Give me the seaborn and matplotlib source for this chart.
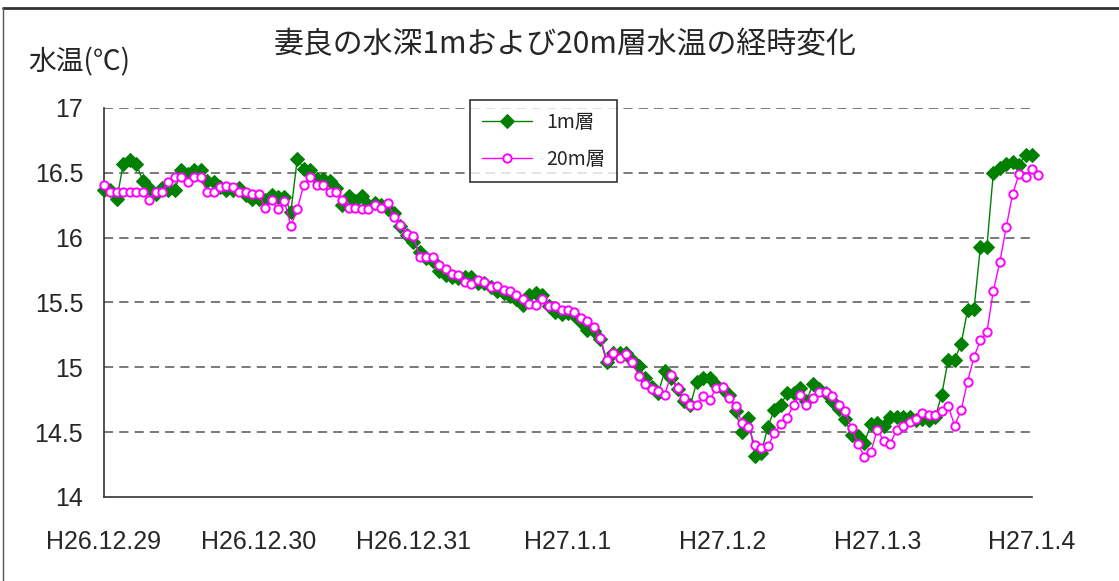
import numpy as np
import pandas as pd
import matplotlib
matplotlib.use("Agg")
import matplotlib.pyplot as plt
from matplotlib.lines import Line2D
import seaborn as sns

# hourly readings, H26.12.29 0:00 onwards
hours = np.arange(146)

temp_1m = [
    16.37, 16.37, 16.30, 16.57, 16.60, 16.57, 16.44, 16.38, 16.34, 16.38,
    16.37, 16.37, 16.52, 16.49, 16.52, 16.52, 16.44, 16.43, 16.39, 16.37,
    16.37, 16.38, 16.33, 16.30, 16.30, 16.29, 16.33, 16.31, 16.31, 16.20,
    16.61, 16.53, 16.52, 16.45, 16.45, 16.44, 16.38, 16.25, 16.32, 16.28,
    16.32, 16.25, 16.27, 16.25, 16.22, 16.19, 16.09, 16.02, 15.97, 15.89,
    15.84, 15.82, 15.74, 15.71, 15.70, 15.69, 15.70, 15.70, 15.65, 15.65,
    15.62, 15.59, 15.57, 15.55, 15.53, 15.48, 15.56, 15.57, 15.56, 15.47,
    15.43, 15.41, 15.42, 15.40, 15.35, 15.29, 15.28, 15.22, 15.04, 15.11,
    15.11, 15.11, 15.06, 15.01, 14.92, 14.85, 14.80, 14.97, 14.92, 14.83,
    14.74, 14.71, 14.89, 14.92, 14.92, 14.86, 14.83, 14.79, 14.66, 14.50,
    14.61, 14.32, 14.34, 14.54, 14.67, 14.71, 14.80, 14.80, 14.84, 14.74,
    14.87, 14.83, 14.80, 14.74, 14.68, 14.60, 14.48, 14.47, 14.42, 14.56,
    14.57, 14.55, 14.62, 14.62, 14.62, 14.62, 14.59, 14.60, 14.59, 14.62,
    14.79, 15.06, 15.06, 15.18, 15.44, 15.45, 15.93, 15.93, 16.50, 16.54,
    16.57, 16.58, 16.56, 16.64, 16.64,
]

temp_20m = [
    16.41, 16.35, 16.35, 16.35, 16.35, 16.35, 16.35, 16.29, 16.35, 16.35,
    16.43, 16.47, 16.47, 16.43, 16.47, 16.47, 16.35, 16.35, 16.39, 16.40,
    16.39, 16.35, 16.35, 16.34, 16.34, 16.23, 16.29, 16.22, 16.28, 16.09,
    16.22, 16.41, 16.47, 16.41, 16.41, 16.35, 16.35, 16.29, 16.23, 16.23,
    16.22, 16.22, 16.25, 16.23, 16.27, 16.16, 16.10, 16.03, 16.01, 15.85,
    15.85, 15.85, 15.79, 15.76, 15.72, 15.71, 15.66, 15.64, 15.67, 15.66,
    15.62, 15.63, 15.60, 15.59, 15.56, 15.53, 15.49, 15.48, 15.53, 15.47,
    15.47, 15.44, 15.44, 15.43, 15.38, 15.36, 15.31, 15.23, 15.06, 15.11,
    15.07, 15.10, 15.04, 14.93, 14.87, 14.83, 14.82, 14.79, 14.94, 14.84,
    14.76, 14.71, 14.71, 14.78, 14.75, 14.84, 14.85, 14.76, 14.70, 14.57,
    14.54, 14.40, 14.38, 14.39, 14.49, 14.56, 14.61, 14.71, 14.79, 14.71,
    14.76, 14.81, 14.81, 14.78, 14.71, 14.66, 14.53, 14.41, 14.31, 14.35,
    14.52, 14.43, 14.41, 14.52, 14.55, 14.58, 14.60, 14.65, 14.63, 14.63,
    14.66, 14.70, 14.55, 14.67, 14.89, 15.08, 15.21, 15.27, 15.59, 15.81,
    16.08, 16.34, 16.49, 16.47, 16.53, 16.48,
]

day_ticks = [0, 24, 48, 72, 96, 120, 144]
day_labels = ["H26.12.29", "H26.12.30", "H26.12.31", "H27.1.1",
              "H27.1.2", "H27.1.3", "H27.1.4"]
y_ticks = [14, 14.5, 15, 15.5, 16, 16.5, 17]
y_labels = ["14", "14.5", "15", "15.5", "16", "16.5", "17"]

sns.set_style("white")
jp = ["Noto Sans CJK JP", "DejaVu Sans"]
num = ["Liberation Sans Narrow", "Liberation Sans", "DejaVu Sans"]
plt.rcParams["font.family"] = jp

fig = plt.figure(figsize=(11.19, 5.81), dpi=100)
ax = fig.add_axes([104 / 1119, 1 - 497 / 581, (1032 - 104) / 1119, (497 - 108) / 581])

df1 = pd.DataFrame({"hour": hours[:len(temp_1m)], "temp": temp_1m})
df20 = pd.DataFrame({"hour": hours[:len(temp_20m)], "temp": temp_20m})

sns.lineplot(data=df1, x="hour", y="temp", ax=ax, color="#008000", lw=1,
             marker="D", markersize=7.5, markeredgecolor="#008000",
             markerfacecolor="#008000", label="1m層", clip_on=False, zorder=3)
sns.lineplot(data=df20, x="hour", y="temp", ax=ax, color="#FF00FF", lw=1,
             marker="o", markersize=6, markeredgecolor="#FF00FF",
             markerfacecolor="white", markeredgewidth=1.4, label="20m層",
             clip_on=False, zorder=4)

ax.set_xlim(0, 144)
ax.set_ylim(14, 17)
for v in y_ticks[1:]:
    ax.axhline(v, color="#555555", lw=1.1, ls=(0, (6, 4)), zorder=1)

ax.set_xticks(day_ticks)
ax.set_xticklabels(day_labels, family=num, fontsize=18)
ax.set_yticks(y_ticks)
ax.set_yticklabels(y_labels, family=num, fontsize=18)
ax.tick_params(axis="x", direction="in", length=9, width=1, pad=24, color="#333333")
ax.tick_params(axis="y", direction="out", length=5, width=1, pad=10, color="#333333")
ax.set_xlabel("")
ax.set_ylabel("")

for side in ["top", "right"]:
    ax.spines[side].set_visible(False)
for side in ["left", "bottom"]:
    ax.spines[side].set_color("#333333")
    ax.spines[side].set_linewidth(1.2)

fig.text(565 / 1119, 1 - 45 / 581, "妻良の水深1mおよび20m層水温の経時変化",
         ha="center", va="center", fontsize=21.5, family=jp)
fig.text(28 / 1119, 1 - 62 / 581, "水温(℃)", ha="left", va="center",
         fontsize=20, family=jp)

leg = ax.legend(loc="upper left", bbox_to_anchor=(470 / 1119, 1 - 100 / 581),
                bbox_transform=fig.transFigure, frameon=True, fancybox=False,
                edgecolor="black", fontsize=14, handlelength=2.6,
                labelspacing=0.85, borderpad=0.6, handletextpad=0.7,
                borderaxespad=0)
leg.get_frame().set_linewidth(1.2)
leg.set_zorder(10)

# outer chart frame
fig.add_artist(Line2D([3 / 1119, 1], [1 - 8 / 581, 1 - 8 / 581], color="#333333", lw=2))
fig.add_artist(Line2D([3 / 1119, 3 / 1119], [0, 1 - 8 / 581], color="#555555", lw=1))

fig.savefig("out.png", dpi=100)
